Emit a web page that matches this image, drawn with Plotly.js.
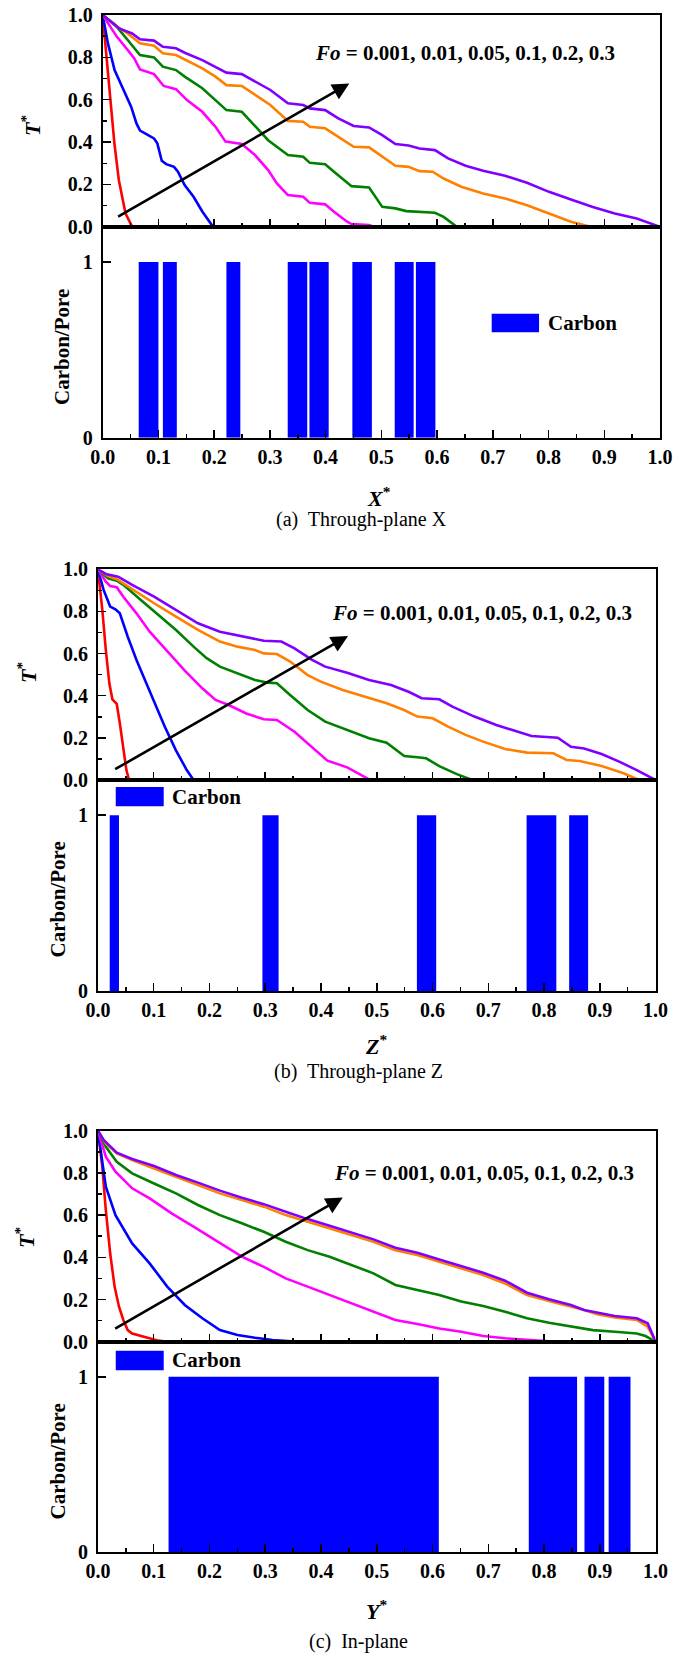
<!DOCTYPE html>
<html>
<head>
<meta charset="utf-8">
<script src="https://cdn.plot.ly/plotly-3.0.1.min.js"></script>
<style>
  html, body { margin: 0; padding: 0; background: #fff; }
  #chart { width: 689px; height: 1655px; }
</style>
</head>
<body>
<div id="chart"></div>
<script>
// Fourier numbers of the six temperature profiles
const foValues = ['0.001', '0.01', '0.05', '0.1', '0.2', '0.3'];
const foColors = ['#ff0000', '#0000ff', '#ff00ff', '#008000', '#ff8000', '#8000ff'];

// ---------- (a) Through-plane X : dimensionless temperature T* vs X* ----------
const aX1 = [0, 0.0055, 0.013, 0.021, 0.029, 0.041, 0.053, 1.0];
const aY1 = [1, 0.835, 0.6, 0.394, 0.22, 0.063, 0, 0];
const aX2 = [0, 0.0094, 0.0213, 0.037, 0.051, 0.0606, 0.067, 0.076, 0.092, 0.098, 0.106, 0.114, 0.128, 0.135, 0.147, 0.163, 0.179, 0.198, 1.0];
const aY2 = [1, 0.866, 0.74, 0.646, 0.567, 0.488, 0.454, 0.441, 0.417, 0.394, 0.312, 0.296, 0.283, 0.260, 0.197, 0.142, 0.071, 0, 0];
const aX3 = [0, 0.0252, 0.0449, 0.0567, 0.0669, 0.0921, 0.1094, 0.1315, 0.1512, 0.1787, 0.2024, 0.2205, 0.2496, 0.2732, 0.2969, 0.3126, 0.3323, 0.3598, 0.3717, 0.3992, 0.4150, 0.4386, 0.4465, 0.4780, 0.4858, 1.0];
const aY3 = [1, 0.898, 0.835, 0.795, 0.743, 0.721, 0.665, 0.650, 0.598, 0.543, 0.472, 0.402, 0.391, 0.339, 0.268, 0.205, 0.150, 0.142, 0.113, 0.106, 0.071, 0.024, 0.013, 0.008, 0, 0];
const aX4 = [0, 0.0213, 0.0449, 0.0669, 0.0921, 0.1079, 0.1315, 0.1472, 0.1787, 0.2024, 0.2220, 0.2496, 0.2693, 0.2969, 0.3323, 0.3598, 0.3717, 0.3992, 0.4150, 0.4465, 0.4780, 0.5016, 0.5252, 0.5449, 0.5961, 0.6118, 0.6354, 1.0];
const aY4 = [1, 0.957, 0.882, 0.811, 0.800, 0.756, 0.740, 0.709, 0.654, 0.598, 0.551, 0.543, 0.488, 0.409, 0.339, 0.331, 0.302, 0.295, 0.260, 0.192, 0.186, 0.094, 0.087, 0.074, 0.066, 0.047, 0, 0];
const aX5 = [0, 0.0213, 0.0449, 0.0669, 0.0921, 0.1079, 0.1315, 0.1551, 0.1787, 0.2024, 0.2220, 0.2496, 0.2732, 0.3008, 0.3323, 0.3598, 0.3717, 0.3992, 0.4228, 0.4504, 0.4780, 0.5016, 0.5252, 0.5488, 0.5685, 0.5921, 0.6118, 0.6433, 0.6827, 0.7220, 0.7614, 0.8008, 0.8402, 0.8756, 1.0];
const aY5 = [1, 0.953, 0.913, 0.866, 0.855, 0.819, 0.811, 0.780, 0.748, 0.709, 0.669, 0.665, 0.622, 0.575, 0.500, 0.496, 0.472, 0.465, 0.425, 0.378, 0.375, 0.331, 0.288, 0.283, 0.263, 0.260, 0.228, 0.189, 0.157, 0.134, 0.102, 0.063, 0.024, 0, 0];
const aX6 = [0, 0.0291, 0.0528, 0.0669, 0.0921, 0.1079, 0.1315, 0.1472, 0.1787, 0.2024, 0.2220, 0.2496, 0.2732, 0.3008, 0.3323, 0.3598, 0.3717, 0.3992, 0.4228, 0.4504, 0.4780, 0.5016, 0.5252, 0.5488, 0.5685, 0.5961, 0.6197, 0.6512, 0.6827, 0.7220, 0.7614, 0.8008, 0.8402, 0.8795, 0.9189, 0.9583, 1.0];
const aY6 = [1, 0.937, 0.913, 0.885, 0.879, 0.850, 0.843, 0.822, 0.787, 0.756, 0.728, 0.721, 0.685, 0.646, 0.583, 0.575, 0.559, 0.551, 0.512, 0.476, 0.469, 0.433, 0.391, 0.384, 0.370, 0.362, 0.323, 0.288, 0.265, 0.241, 0.208, 0.165, 0.129, 0.094, 0.063, 0.039, 0];
// carbon segments along X*
const aCarbonStart = [0.0646, 0.108, 0.222, 0.332, 0.371, 0.448, 0.524, 0.562];
const aCarbonEnd   = [0.100, 0.133, 0.247, 0.367, 0.4055, 0.483, 0.558, 0.597];

// ---------- (b) Through-plane Z ----------
const bX1 = [0, 0.0079, 0.0142, 0.0205, 0.026, 0.0338, 0.0393, 0.0456, 0.0511, 0.0559, 1.0];
const bY1 = [1, 0.807, 0.617, 0.459, 0.383, 0.361, 0.269, 0.142, 0.047, 0, 0];
const bX2 = [0, 0.0102, 0.022, 0.0315, 0.0393, 0.0535, 0.0692, 0.085, 0.1007, 0.12, 0.1397, 0.1593, 0.1715, 1.0];
const bY2 = [1, 0.902, 0.823, 0.81, 0.791, 0.68, 0.57, 0.467, 0.372, 0.253, 0.142, 0.047, 0, 0];
const bX3 = [0, 0.0142, 0.022, 0.0338, 0.0456, 0.0692, 0.0928, 0.1243, 0.1558, 0.1872, 0.211, 0.2345, 0.266, 0.2974, 0.321, 0.3525, 0.384, 0.4115, 0.447, 0.4705, 0.4863, 0.494, 1.0];
const bY3 = [1, 0.941, 0.921, 0.915, 0.870, 0.791, 0.704, 0.609, 0.519, 0.435, 0.38, 0.356, 0.316, 0.288, 0.285, 0.229, 0.158, 0.092, 0.06, 0.028, 0.003, 0, 0];
const bX4 = [0, 0.0181, 0.0338, 0.0456, 0.077, 0.1086, 0.1401, 0.1715, 0.195, 0.2187, 0.25, 0.2817, 0.3053, 0.321, 0.3446, 0.3761, 0.4076, 0.4391, 0.4862, 0.5177, 0.5492, 0.5728, 0.5885, 0.6121, 0.6436, 0.6711, 1.0];
const bY4 = [1, 0.957, 0.946, 0.926, 0.854, 0.783, 0.712, 0.633, 0.578, 0.538, 0.506, 0.475, 0.462, 0.459, 0.403, 0.332, 0.277, 0.245, 0.198, 0.177, 0.114, 0.108, 0.103, 0.066, 0.028, 0, 0];
const bX5 = [0, 0.0181, 0.0338, 0.0614, 0.1007, 0.1401, 0.1794, 0.2187, 0.25, 0.2817, 0.2974, 0.321, 0.3446, 0.3761, 0.3997, 0.439, 0.4784, 0.5177, 0.549, 0.5728, 0.6003, 0.6279, 0.6593, 0.6908, 0.7301, 0.7695, 0.8167, 0.8403, 0.8639, 0.9032, 0.9425, 0.970, 1.0];
const bY5 = [1, 0.968, 0.953, 0.905, 0.839, 0.775, 0.712, 0.657, 0.633, 0.617, 0.601, 0.598, 0.562, 0.498, 0.467, 0.427, 0.396, 0.364, 0.332, 0.301, 0.293, 0.253, 0.214, 0.182, 0.147, 0.130, 0.127, 0.095, 0.09, 0.066, 0.032, 0, 0];
const bX6 = [0, 0.0142, 0.0362, 0.0614, 0.1007, 0.1401, 0.1794, 0.2187, 0.258, 0.2974, 0.3289, 0.3525, 0.384, 0.4076, 0.4469, 0.4862, 0.5256, 0.557, 0.5806, 0.6121, 0.6357, 0.6751, 0.7144, 0.7537, 0.7774, 0.8246, 0.8482, 0.8718, 0.9032, 0.9347, 0.9662, 1.0];
const bY6 = [1, 0.978, 0.965, 0.926, 0.870, 0.807, 0.744, 0.704, 0.684, 0.661, 0.657, 0.625, 0.570, 0.538, 0.509, 0.475, 0.451, 0.419, 0.388, 0.383, 0.348, 0.301, 0.261, 0.229, 0.209, 0.201, 0.158, 0.150, 0.123, 0.087, 0.047, 0];
const bCarbonStart = [0.0212, 0.295, 0.572, 0.7687, 0.845];
const bCarbonEnd   = [0.0378, 0.324, 0.6066, 0.822, 0.879];

// ---------- (c) In-plane ----------
const cX1 = [0, 0.0079, 0.0142, 0.022, 0.0299, 0.0378, 0.0456, 0.0535, 0.0614, 0.085, 0.1086, 0.1243, 1.0];
const cY1 = [1, 0.829, 0.624, 0.419, 0.261, 0.166, 0.103, 0.055, 0.039, 0.021, 0.005, 0, 0];
const cX2 = [0, 0.0047, 0.0142, 0.0315, 0.0614, 0.0928, 0.1243, 0.1558, 0.1873, 0.2187, 0.2502, 0.2817, 0.3131, 0.3603, 1.0];
const cY2 = [1, 0.908, 0.735, 0.600, 0.466, 0.371, 0.261, 0.174, 0.111, 0.055, 0.032, 0.019, 0.008, 0, 0];
const cX3 = [0, 0.0142, 0.0315, 0.0614, 0.0928, 0.1322, 0.1715, 0.2187, 0.2581, 0.2974, 0.3367, 0.3761, 0.4154, 0.4548, 0.4941, 0.5334, 0.5728, 0.6121, 0.6514, 0.6908, 0.7301, 0.7695, 0.8088, 0.8481, 1.0];
const cY3 = [1, 0.877, 0.806, 0.727, 0.679, 0.608, 0.545, 0.466, 0.403, 0.355, 0.300, 0.261, 0.221, 0.182, 0.142, 0.103, 0.084, 0.063, 0.047, 0.027, 0.016, 0.008, 0.002, 0, 0];
const cX4 = [0, 0.0142, 0.0338, 0.0614, 0.1007, 0.1400, 0.1794, 0.2187, 0.2581, 0.2974, 0.3367, 0.3761, 0.4154, 0.4548, 0.4941, 0.5334, 0.5728, 0.6121, 0.6514, 0.6908, 0.7301, 0.7695, 0.8088, 0.8481, 0.8875, 0.9268, 0.9662, 0.9819, 1.0];
const cY4 = [1, 0.924, 0.853, 0.798, 0.750, 0.703, 0.648, 0.600, 0.561, 0.521, 0.474, 0.434, 0.403, 0.363, 0.324, 0.269, 0.245, 0.221, 0.190, 0.169, 0.142, 0.111, 0.090, 0.071, 0.055, 0.047, 0.039, 0.027, 0];
const cX5 = [0, 0.0142, 0.0338, 0.0614, 0.1007, 0.1400, 0.1794, 0.2187, 0.2581, 0.2974, 0.3367, 0.3761, 0.4154, 0.4548, 0.4941, 0.5334, 0.5728, 0.6121, 0.6514, 0.6908, 0.7301, 0.7695, 0.8088, 0.8481, 0.8717, 0.8954, 0.9268, 0.9662, 0.9858, 1.0];
const cY5 = [1, 0.94, 0.893, 0.861, 0.821, 0.782, 0.742, 0.703, 0.671, 0.640, 0.600, 0.569, 0.537, 0.506, 0.474, 0.434, 0.411, 0.379, 0.348, 0.316, 0.276, 0.221, 0.193, 0.166, 0.150, 0.130, 0.115, 0.103, 0.071, 0];
const cX6 = [0, 0.0102, 0.0338, 0.0614, 0.1007, 0.1400, 0.1794, 0.2187, 0.2581, 0.2974, 0.3367, 0.3761, 0.4154, 0.4548, 0.4941, 0.5334, 0.5728, 0.6121, 0.6514, 0.6908, 0.7301, 0.7695, 0.8088, 0.8481, 0.8717, 0.8954, 0.9268, 0.9662, 0.9858, 1.0];
const cY6 = [1, 0.956, 0.896, 0.866, 0.833, 0.790, 0.754, 0.716, 0.682, 0.652, 0.616, 0.581, 0.550, 0.517, 0.485, 0.445, 0.422, 0.390, 0.359, 0.327, 0.289, 0.232, 0.201, 0.174, 0.150, 0.137, 0.122, 0.111, 0.087, 0];
const cCarbonStart = [0.1267, 0.7726, 0.8725, 0.9158];
const cCarbonEnd   = [0.6113, 0.8592, 0.908, 0.955];

// Arrow tails/heads (x, T*) marking increasing Fo
const arrowTail = [[0.025, 0.044], [0.0283, 0.047], [0.0283, 0.058]];
const arrowHead = [[0.4425, 0.677], [0.4485, 0.684], [0.439, 0.684]];

const SERIF = '"Liberation Serif", "Times New Roman", Times, serif';
const W = 689, H = 1655;

// italic run with an explicit size so every text piece carries its own size
const ital = (s, size) => '<span style="font-style:italic;font-size:' + size + 'px">' + s + '</span>';

const panels = [
  { xs: [aX1, aX2, aX3, aX4, aX5, aX6], ys: [aY1, aY2, aY3, aY4, aY5, aY6],
    cs: aCarbonStart, ce: aCarbonEnd, axisVar: 'X', caption: '(a)  Through-plane X',
    left: 102.7, right: 660, top: 15, mid: 226.8, bottom: 437.8,
    foPos: [0.6495, 0.819], legend: { x0: 0.698, x1: 0.783, y0: 0.600, y1: 0.706 },
    tTitle: [31, 126], cpTitle: [62, 347], xTitle: [379, 497], capPos: [362, 519] },
  { xs: [bX1, bX2, bX3, bX4, bX5, bX6], ys: [bY1, bY2, bY3, bY4, bY5, bY6],
    cs: bCarbonStart, ce: bCarbonEnd, axisVar: 'Z', caption: '(b)  Through-plane Z',
    left: 97.9, right: 655.6, top: 569.3, mid: 780, bottom: 991,
    foPos: [0.6895, 0.791], legend: { x0: 0.032, x1: 0.118, y0: 1.051, y1: 1.160 },
    tTitle: [27, 673], cpTitle: [57.5, 900], xTitle: [376, 1045], capPos: [358.5, 1071] },
  { xs: [cX1, cX2, cX3, cX4, cX5, cX6], ys: [cY1, cY2, cY3, cY4, cY5, cY6],
    cs: cCarbonStart, ce: cCarbonEnd, axisVar: 'Y', caption: '(c)  In-plane',
    left: 97.9, right: 655.6, top: 1130.7, mid: 1341.7, bottom: 1552.3,
    foPos: [0.6925, 0.798], legend: { x0: 0.032, x1: 0.118, y0: 1.038, y1: 1.148 },
    tTitle: [25, 1238], cpTitle: [57.5, 1462], xTitle: [376, 1610], capPos: [358.5, 1641] }
];

const traces = [];
const layout = {
  width: W, height: H,
  margin: { l: 0, r: 0, t: 0, b: 0 },
  paper_bgcolor: '#fff', plot_bgcolor: '#fff',
  showlegend: false,
  font: { family: SERIF, color: '#000', size: 20 },
  annotations: [], shapes: []
};

const px = v => v / W;            // horizontal pixel -> paper
const py = v => 1 - v / H;        // vertical pixel -> paper

function baseAxis() {
  return {
    showline: true, linecolor: '#000', linewidth: 2, mirror: true,
    showgrid: false, zeroline: false,
    ticks: 'inside', ticklen: 8, tickwidth: 1.5, tickcolor: '#000',
    tickfont: { family: SERIF, size: 20, weight: 'bold', color: '#000' }
  };
}

panels.forEach((p, i) => {
  const kTop = 2 * i + 1, kBot = 2 * i + 2;
  const xT = 'x' + (kTop === 1 ? '' : kTop), yT = 'y' + (kTop === 1 ? '' : kTop);
  const xB = 'x' + kBot, yB = 'y' + kBot;
  const xdom = [px(p.left), px(p.right)];

  // temperature profiles
  foValues.forEach((fo, j) => {
    traces.push({
      type: 'scatter', mode: 'lines', name: 'Fo = ' + fo,
      x: p.xs[j], y: p.ys[j], xaxis: xT, yaxis: yT,
      line: { color: foColors[j], width: 2.6 }, hoverinfo: 'x+y+name'
    });
  });

  // carbon / pore distribution
  traces.push({
    type: 'bar', name: 'Carbon', xaxis: xB, yaxis: yB,
    x: p.cs.map((s, k) => (s + p.ce[k]) / 2),
    width: p.cs.map((s, k) => p.ce[k] - s),
    y: p.cs.map(() => 1),
    marker: { color: '#0000ff', line: { width: 0 } }
  });

  const axT = (kTop === 1 ? 'xaxis' : 'xaxis' + kTop);
  const ayT = (kTop === 1 ? 'yaxis' : 'yaxis' + kTop);

  layout[axT] = Object.assign(baseAxis(), {
    domain: xdom, anchor: yT, range: [0, 1],
    tick0: 0, dtick: 0.1, showticklabels: false,
    minor: { dtick: 0.05, ticks: 'inside', ticklen: 4, tickwidth: 1.5, tickcolor: '#000' }
  });
  layout[ayT] = Object.assign(baseAxis(), {
    domain: [py(p.mid), py(p.top)], anchor: xT, range: [0, 1],
    tick0: 0, dtick: 0.2, tickformat: '.1f', ticklabelstandoff: 4,
    minor: { dtick: 0.1, ticks: 'inside', ticklen: 4, tickwidth: 1.5, tickcolor: '#000' }
  });
  layout['xaxis' + kBot] = Object.assign(baseAxis(), {
    domain: xdom, anchor: yB, range: [0, 1],
    tick0: 0, dtick: 0.1, tickformat: '.1f',
    minor: { dtick: 0.05, ticks: 'inside', ticklen: 4, tickwidth: 1.5, tickcolor: '#000' }
  });
  layout['yaxis' + kBot] = Object.assign(baseAxis(), {
    domain: [py(p.bottom), py(p.mid)], anchor: xB, range: [0, 1.2],
    tickvals: [0, 1], ticktext: ['0', '1'], ticklabelstandoff: 4
  });

  // Fo label and arrow
  layout.annotations.push({
    xref: xT, yref: yT, x: p.foPos[0], y: p.foPos[1],
    text: ital('Fo', 21) + ' = ' + foValues.join(', '), showarrow: false,
    font: { family: SERIF, size: 21, weight: 'bold', color: '#000' }
  });
  layout.annotations.push({
    xref: xT, yref: yT, axref: xT, ayref: yT,
    x: arrowHead[i][0], y: arrowHead[i][1], ax: arrowTail[i][0], ay: arrowTail[i][1],
    text: '', showarrow: true, arrowhead: 2, arrowsize: 1.3, arrowwidth: 2.6, arrowcolor: '#000'
  });

  // legend swatch + label
  layout.shapes.push({
    type: 'rect', xref: xB + ' domain', yref: yB,
    x0: p.legend.x0, x1: p.legend.x1, y0: p.legend.y0, y1: p.legend.y1,
    fillcolor: '#0000ff', line: { width: 0 }
  });
  layout.annotations.push({
    xref: xB + ' domain', yref: yB, x: p.legend.x1 + 0.012, y: (p.legend.y0 + p.legend.y1) / 2,
    xanchor: 'left', yanchor: 'middle', text: 'Carbon', showarrow: false,
    font: { family: SERIF, size: 21, weight: 'bold', color: '#000' }
  });

  // axis titles and caption
  layout.annotations.push({
    xref: 'paper', yref: 'paper', x: px(p.tTitle[0]), y: py(p.tTitle[1]),
    text: ital('T', 22) + '<sup>*</sup>', textangle: -90, showarrow: false,
    xanchor: 'center', yanchor: 'middle',
    font: { family: SERIF, size: 22, weight: 'bold', color: '#000' }
  });
  layout.annotations.push({
    xref: 'paper', yref: 'paper', x: px(p.cpTitle[0]), y: py(p.cpTitle[1]),
    text: 'Carbon/Pore', textangle: -90, showarrow: false,
    xanchor: 'center', yanchor: 'middle',
    font: { family: SERIF, size: 21, weight: 'bold', color: '#000' }
  });
  layout.annotations.push({
    xref: 'paper', yref: 'paper', x: px(p.xTitle[0]), y: py(p.xTitle[1]),
    text: ital(p.axisVar, 22) + '<sup>*</sup>', showarrow: false,
    xanchor: 'center', yanchor: 'middle',
    font: { family: SERIF, size: 22, weight: 'bold', color: '#000' }
  });
  layout.annotations.push({
    xref: 'paper', yref: 'paper', x: px(p.capPos[0]), y: py(p.capPos[1]),
    text: p.caption, showarrow: false, xanchor: 'center', yanchor: 'middle',
    font: { family: SERIF, size: 20, color: '#000' }
  });
});

Plotly.newPlot('chart', traces, layout, { displayModeBar: false, staticPlot: true });
</script>
</body>
</html>
